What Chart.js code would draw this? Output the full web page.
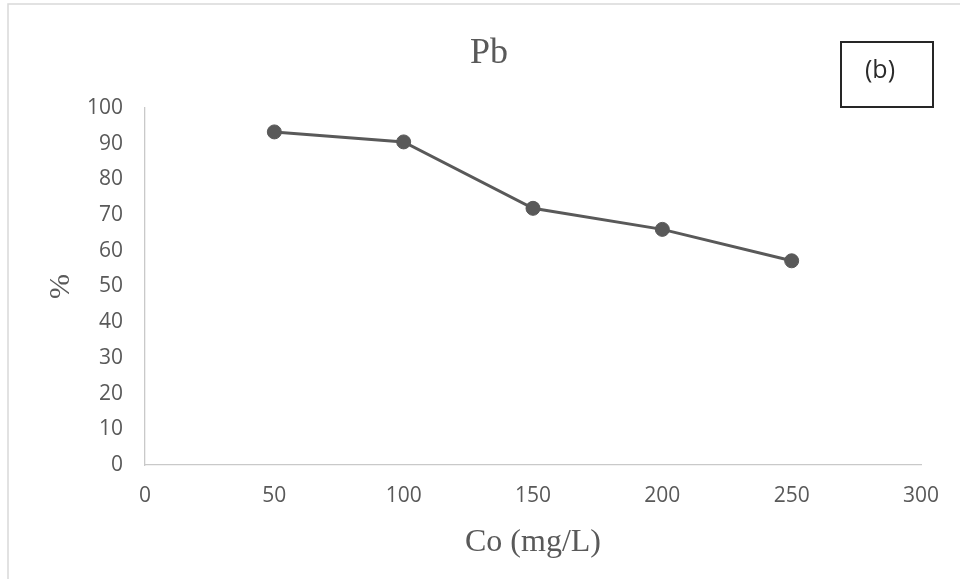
<!DOCTYPE html>
<html>
<head>
<meta charset="utf-8">
<title>Pb</title>
<script src="https://cdn.jsdelivr.net/npm/chart.js@4"></script>
<style>
  html, body { margin: 0; padding: 0; background: #fff; }
  canvas { display: block; }
</style>
</head>
<body>
<canvas id="pbChart" width="960" height="579"></canvas>
<script>
// initial concentration (mg/L) and removal (%)
const concentrations = [50, 100, 150, 200, 250];
const removal = [93.3, 90.5, 71.9, 66.0, 57.2];
const xTicks = [0, 50, 100, 150, 200, 250, 300];
const yTicks = [0, 10, 20, 30, 40, 50, 60, 70, 80, 90, 100];

const grey = '#595959';
const axisGrey = '#c9c9c9';

// frame, heading and the (b) panel tag
const decorations = {
    id: 'decorations',
    beforeDraw(chart) {
        const ctx = chart.ctx;
        ctx.save();
        ctx.fillStyle = '#fff';
        ctx.fillRect(0, 0, chart.width, chart.height);
        ctx.strokeStyle = '#d9d9d9';
        ctx.lineWidth = 1.5;
        ctx.beginPath();
        ctx.moveTo(8, chart.height);
        ctx.lineTo(8, 4);
        ctx.lineTo(chart.width, 4);
        ctx.stroke();
        ctx.restore();
    },
    afterDraw(chart) {
        const ctx = chart.ctx;
        ctx.save();
        ctx.fillStyle = grey;
        ctx.font = '36px "Liberation Serif", "Times New Roman", serif';
        ctx.textAlign = 'center';
        ctx.textBaseline = 'middle';
        ctx.fillText('Pb', 489, 54);

        ctx.strokeStyle = '#262626';
        ctx.lineWidth = 2;
        ctx.strokeRect(841, 42, 92, 65);
        ctx.fillStyle = '#2b2b2b';
        ctx.font = '25px "Open Sans", sans-serif';
        ctx.fillText('(b)', 880, 71);
        ctx.restore();
    }
};

new Chart(document.getElementById('pbChart'), {
    type: 'line',
    data: {
        datasets: [{
            data: concentrations.map((c, i) => ({ x: c, y: removal[i] })),
            borderColor: grey,
            backgroundColor: grey,
            borderWidth: 3,
            pointRadius: 7,
            pointBorderWidth: 1,
            pointBackgroundColor: grey,
            pointBorderColor: grey,
            tension: 0
        }]
    },
    options: {
        responsive: false,
        animation: false,
        layout: { padding: { left: 0, right: 39, top: 108, bottom: 0 } },
        plugins: {
            legend: { display: false },
            title: { display: false },
            tooltip: { enabled: false }
        },
        scales: {
            x: {
                type: 'linear',
                min: 0,
                max: 300,
                afterBuildTicks: (scale) => { scale.ticks = xTicks.map(v => ({ value: v })); },
                afterFit: (scale) => { scale.height = 114; },
                grid: { display: false, drawTicks: false },
                border: { display: true, color: axisGrey, width: 1.3 },
                ticks: {
                    color: grey,
                    padding: 18,
                    font: { family: '"Open Sans", sans-serif', size: 21 }
                },
                title: {
                    display: true,
                    text: 'Co (mg/L)',
                    color: grey,
                    padding: { bottom: 17 },
                    font: { family: '"Liberation Serif", "Times New Roman", serif', size: 32 }
                }
            },
            y: {
                type: 'linear',
                min: 0,
                max: 100,
                afterBuildTicks: (scale) => { scale.ticks = yTicks.map(v => ({ value: v })); },
                afterFit: (scale) => { scale.width = 145; },
                grid: { display: false, drawTicks: false },
                border: { display: true, color: axisGrey, width: 1.3 },
                ticks: {
                    color: grey,
                    padding: 22,
                    font: { family: '"Open Sans", sans-serif', size: 21 }
                },
                title: {
                    display: true,
                    text: '%',
                    color: grey,
                    padding: { top: 43 },
                    font: { family: '"Liberation Serif", "Times New Roman", serif', size: 30 }
                }
            }
        }
    },
    plugins: [decorations]
});
</script>
</body>
</html>
